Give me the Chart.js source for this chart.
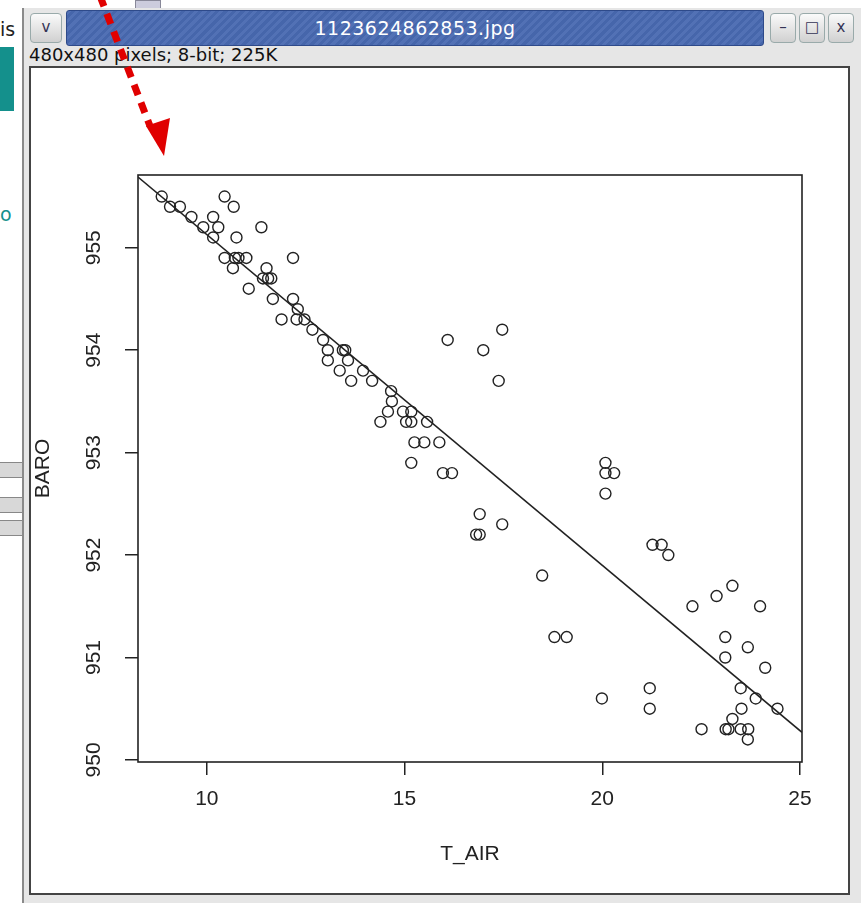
<!DOCTYPE html>
<html>
<head>
<meta charset="utf-8">
<script src="https://cdn.jsdelivr.net/npm/chart.js@4"></script>
<style>
  body { margin: 0; width: 861px; height: 903px; background: #fff; position: relative; overflow: hidden; font-family: "DejaVu Sans", sans-serif; }
  .bgtxt { position: absolute; color: #222; font-size: 19px; }
  .teal { position: absolute; left: 0; top: 47px; width: 14px; height: 64px; background: #14908c; }
  .graybar { position: absolute; left: 0; width: 22px; height: 14px; background: #d8d8d8; border-top: 1px solid #888; border-bottom: 1px solid #888; }
  .win { position: absolute; left: 22px; top: 8px; width: 839px; height: 895px; background: #e6e6e6; border-left: 2px solid #8a8a8a; }
  .titlebar { position: absolute; left: 42px; top: 2px; width: 696px; height: 34px;
    background: repeating-linear-gradient(135deg, #5271b5 0 3px, #4666ab 3px 6px);
    border: 1px solid #2e4a8a; border-radius: 3px; color: #fff; font-size: 19px; text-align: center; line-height: 34px; letter-spacing: 0.5px; }
  .btn { position: absolute; top: 5px; width: 24px; height: 28px; background: linear-gradient(#fafafa, #d0d0d0); border: 1px solid #9aa; border-radius: 4px; color: #335; font-size: 15px; text-align: center; line-height: 26px; }
  .info { position: absolute; left: 5px; top: 36px; font-size: 18px; color: #111; }
  .frame { position: absolute; left: 29px; top: 66px; width: 817px; height: 825px; border: 2px solid #444; background: #fff; }
  canvas { position: absolute; left: 0; top: 0; }
  svg { position: absolute; left: 0; top: 0; }
</style>
</head>
<body>
<div class="bgtxt" style="left:0;top:18px">is</div>
<div class="teal"></div>
<div class="bgtxt" style="left:0;top:203px;color:#14908c">o</div>
<div class="graybar" style="top:462px"></div>
<div class="graybar" style="top:497px"></div>
<div class="graybar" style="top:520px"></div>
<div style="position:absolute;left:135px;top:0;width:24px;height:8px;background:#ccd;border:1px solid #889"></div>
<div class="win">
  <div class="btn" style="left:6px;width:30px">v</div>
  <div class="titlebar">1123624862853.jpg</div>
  <div class="btn" style="left:746px">&#8211;</div>
  <div class="btn" style="left:775px">&#9633;</div>
  <div class="btn" style="left:804px">x</div>
  <div class="info">480x480 pixels; 8-bit; 225K</div>
</div>
<div class="frame">
  <canvas id="scatter" width="817" height="825"></canvas>
</div>
<svg width="861" height="903">
  <line x1="100" y1="-4" x2="150" y2="126" stroke="#e00000" stroke-width="7" stroke-dasharray="11 8"/>
  <polygon points="146,126 170,118 164,156" fill="#e00000"/>
</svg>

<script>
// air temperature vs barometric pressure
const tAir = [8.86, 9.07, 9.32, 9.61, 9.91, 10.16, 10.29, 10.45, 10.68, 10.16, 10.75, 11.38,
  10.45, 10.71, 10.8, 11.0, 10.66, 11.51, 11.42, 11.55, 11.63, 12.18, 11.06, 11.67, 12.18,
  12.3, 11.89, 12.27, 12.47, 12.67, 12.94, 13.06, 13.44, 13.5, 13.06, 13.57, 13.36, 13.65,
  13.95, 14.18, 14.66, 14.68, 14.58, 14.39, 14.96, 15.17, 15.04, 15.17, 15.57, 15.25, 15.5,
  15.88, 15.17, 15.97, 16.2, 16.09, 17.47, 16.99, 17.38, 16.9, 17.47, 16.81, 16.9, 18.48,
  18.79, 19.1, 19.99, 20.08, 20.08, 20.3, 20.08, 21.27, 21.5, 21.67, 21.2, 21.2, 22.28,
  22.89, 23.29, 23.99, 23.11, 23.68, 23.11, 24.12, 23.5, 23.88, 24.43, 23.52, 23.29, 22.51,
  23.12, 23.19, 23.5, 23.69, 23.68];
const baro = [955.5, 955.4, 955.4, 955.3, 955.2, 955.3, 955.2, 955.5, 955.4, 955.1, 955.1, 955.2,
  954.9, 954.9, 954.9, 954.9, 954.8, 954.8, 954.7, 954.7, 954.7, 954.9, 954.6, 954.5, 954.5,
  954.4, 954.3, 954.3, 954.3, 954.2, 954.1, 954.0, 954.0, 954.0, 953.9, 953.9, 953.8, 953.7,
  953.8, 953.7, 953.6, 953.5, 953.4, 953.3, 953.4, 953.4, 953.3, 953.3, 953.3, 953.1, 953.1,
  953.1, 952.9, 952.8, 952.8, 954.1, 954.2, 954.0, 953.7, 952.4, 952.3, 952.2, 952.2, 951.8,
  951.2, 951.2, 950.6, 952.9, 952.8, 952.8, 952.6, 952.1, 952.1, 952.0, 950.7, 950.5, 951.5,
  951.6, 951.7, 951.5, 951.2, 951.1, 951.0, 950.9, 950.7, 950.6, 950.5, 950.5, 950.4, 950.3,
  950.3, 950.3, 950.3, 950.3, 950.2];

// fitted line ends, as drawn at the box edges
const fitX = [8.26, 25.05];
const fitY = [955.69, 950.27];

const xTicks = [10, 15, 20, 25];
const yTicks = [950, 951, 952, 953, 954, 955];

const axisFont = { family: "'Liberation Sans Narrow', 'Liberation Sans', Arial, sans-serif", size: 21 };
const ink = "#222";

const boxPlugin = {
  id: "box",
  afterDraw(chart) {
    const a = chart.chartArea;
    const ctx = chart.ctx;
    ctx.save();
    ctx.strokeStyle = ink;
    ctx.lineWidth = 1.6;
    ctx.strokeRect(a.left, a.top, a.right - a.left, a.bottom - a.top);
    ctx.restore();
  }
};

new Chart("scatter", {
  type: "scatter",
  data: {
    datasets: [
      {
        label: "BARO",
        data: tAir.map((t, i) => ({ x: t, y: baro[i] })),
        pointStyle: "circle",
        pointRadius: 5.5,
        pointBorderWidth: 1.4,
        borderColor: ink,
        backgroundColor: "rgba(0,0,0,0)",
      },
      {
        type: "line",
        label: "fit",
        data: fitX.map((t, i) => ({ x: t, y: fitY[i] })),
        borderColor: ink,
        borderWidth: 1.6,
        pointRadius: 0,
        fill: false,
      },
    ],
  },
  options: {
    responsive: false,
    animation: false,
    layout: { padding: { top: 107, right: 46, left: 0, bottom: 0 } },
    plugins: { legend: { display: false }, tooltip: { enabled: false } },
    scales: {
      x: {
        type: "linear",
        min: 8.26,
        max: 25.05,
        afterBuildTicks: (s) => { s.ticks = xTicks.map(v => ({ value: v })); },
        afterFit: (s) => { s.height = 131; },
        border: { display: false },
        grid: { drawOnChartArea: false, drawTicks: true, tickLength: 13, color: ink, lineWidth: 1.5 },
        ticks: { color: ink, font: axisFont, padding: 12, maxRotation: 0 },
        title: { display: true, text: "T_AIR", color: ink, font: axisFont, padding: { top: 0, bottom: 26 } },
      },
      y: {
        type: "linear",
        min: 949.98,
        max: 955.71,
        afterBuildTicks: (s) => { s.ticks = yTicks.map(v => ({ value: v })); },
        afterFit: (s) => { s.width = 107; },
        border: { display: false },
        grid: { drawOnChartArea: false, drawTicks: true, tickLength: 13, color: ink, lineWidth: 1.5 },
        ticks: { color: ink, font: axisFont, padding: 13, minRotation: 90, maxRotation: 90, crossAlign: "center" },
        title: { display: true, text: "BARO", color: ink, font: axisFont, padding: { top: 0, bottom: 0 } },
      },
    },
  },
  plugins: [boxPlugin],
});
</script>
</body>
</html>
